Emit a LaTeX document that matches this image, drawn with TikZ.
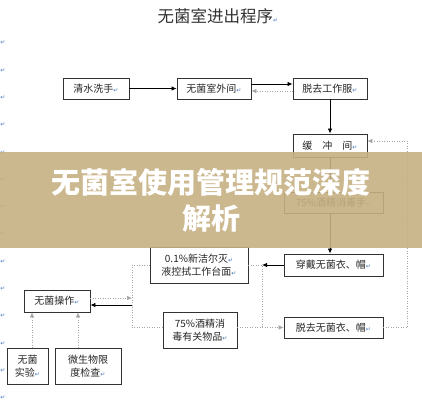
\documentclass[tikz,border=0pt]{standalone}
\usepackage{fontspec}
\usepackage{xcolor}
\usetikzlibrary{arrows.meta}
\setmainfont{Noto Sans CJK SC}
\newfontfamily\symfont{DejaVu Sans}
\definecolor{retblue}{RGB}{70,120,190}
\definecolor{boxline}{RGB}{50,50,50}
\definecolor{tan}{RGB}{198,176,130}
\newcommand{\retm}{{\symfont\fontsize{6}{6}\selectfont\color{retblue}↵}}

\begin{document}
\begin{tikzpicture}[
            x=1pt, y=-1pt,
            stepbox/.style={draw=boxline, line width=0.9pt, fill=white, inner sep=1pt, font=\fontsize{10}{13}\selectfont, text=black!85, align=center},
            arrow/.style={-{Latex[length=5pt,width=4.5pt]}, line width=0.8pt},
            dotarrow/.style={-{Latex[length=5pt,width=4.5pt]}, gray!70, dotted, line width=0.5pt},
            dotline/.style={gray!70, dotted, line width=0.5pt},
            retmk/.style={inner sep=0pt},
            banner/.style={fill=tan, opacity=0.9}
        ]
        \useasboundingbox (0,0) rectangle (422,400);

        % --- TITRE ---
        \node[font=\fontsize{16.5}{18}\selectfont, text=black!80] (title) at (218,16) {无菌室进出程序\retm};

        % --- MARQUES DE PARAGRAPHE ---
        \foreach \k in {0,...,13} {
                \node[retmk] (m\k) at (3, 43+27.3*\k) {\retm};
            }

        % --- LIGNE DU HAUT ---
        \node[stepbox, minimum width=66, minimum height=21] (wash) at (96,88.5) {清水洗手\retm};
        \node[stepbox, minimum width=74, minimum height=21] (outer) at (214,88.5) {无菌室外间\retm};
        \node[stepbox, minimum width=74, minimum height=21] (undress) at (330,88.5) {脱去工作服\retm};

        % --- COLONNE DE DROITE ---
        \node[stepbox, minimum width=74, minimum height=23] (buffer) at (330,145.5) {缓\hspace{1em}冲\hspace{1em}间\retm};
        \node[stepbox, minimum width=99, minimum height=21] (handdis) at (333.5,202.5) {75\%酒精消毒手\retm};
        \node[stepbox, minimum width=99, minimum height=22] (wear) at (333.5,265) {穿戴无菌衣、帽\retm};
        \node[stepbox, minimum width=99, minimum height=21] (takeoff) at (333.5,327.5) {脱去无菌衣、帽\retm};

        % --- CENTRE ---
        \node[stepbox, minimum width=98, minimum height=36] (bench) at (199,265) {0.1\%新洁尔灭\retm\\液控拭工作台面\retm};
        \node[stepbox, minimum width=74, minimum height=36] (items) at (200,330) {75\%酒精消\\毒有关物品\retm};

        % --- GAUCHE ---
        \node[stepbox, minimum width=66, minimum height=22] (aseptic) at (57,301) {无菌操作\retm};
        \node[stepbox, minimum width=41, minimum height=36] (sterile) at (27.5,366) {无菌\\实验\retm};
        \node[stepbox, minimum width=66, minimum height=36] (microbe) at (88,366) {微生物限\\度检查\retm};

        \coordinate (jR) at (262,265);
        \coordinate (jRB) at (262,327.5);
        \coordinate (jL) at (132,265);
        \coordinate (jLB) at (132,327.5);
        \coordinate (jTR) at (407,141);

        % --- CONNECTEURS ---
        \draw[arrow] (wash.east) -- (outer.west);
        \draw[arrow] ([yshift=4.5pt]outer.east) -- ([yshift=4.5pt]undress.west);
        \draw[dotarrow] ([yshift=-2.5pt]undress.west) -- ([yshift=-2.5pt]outer.east);
        \draw[arrow] (undress.south) -- (buffer.north);
        \draw[line width=0.8pt] (buffer.south) -- (buffer.south |- handdis.north);
        \draw[arrow] (buffer.south |- handdis.south) -- (buffer.south |- wear.north);
        \draw[arrow] (wear.west) -- (jR);
        \draw[dotline] (bench.east) -- (jR) -- (jRB);
        \draw[dotarrow] (items.east |- jRB) -- (takeoff.west);
        \draw[dotarrow] (takeoff.east) -| (jTR) -- (buffer.east |- jTR);
        \draw[dotline] (bench.west) -- (jL) -- (jLB) -- (items.west |- jLB);
        \draw[dotarrow] ([yshift=3pt]aseptic.east) -- ([yshift=3pt]aseptic.east -| jL);
        \draw[arrow] ([yshift=-4pt]aseptic.east -| jL) -- ([yshift=-4pt]aseptic.east);
        \draw[dotarrow] ([xshift=4.5pt]sterile.north) -- ([xshift=4.5pt]sterile.north |- aseptic.south);
        \draw[dotarrow] ([xshift=-10pt]microbe.north) -- ([xshift=-10pt]microbe.north |- aseptic.south);

        % --- BANDEAU ---
        \fill[banner] (0,152) rectangle (422,248);
        \node[font=\fontsize{29}{32}\selectfont\bfseries, text=white] (head1) at (211,182) {无菌室使用管理规范深度};
        \node[font=\fontsize{29}{32}\selectfont\bfseries, text=white] (head2) at (211,219) {解析};

    \end{tikzpicture}
\end{document}
